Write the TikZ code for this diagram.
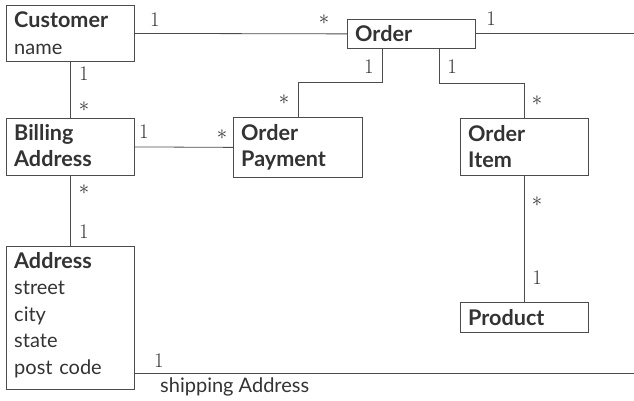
\documentclass[tikz,border=0pt]{standalone}
\usepackage{fontspec}
\setmainfont{Lato}[BoldFeatures={Scale=1.08}]
\usetikzlibrary{positioning, calc}

\begin{document}
\begin{tikzpicture}[x=1pt, y=-1pt,
  cls/.style={draw=black!70, line width=0.8pt, anchor=north west, inner sep=0pt},
  attr/.style={anchor=base west, align=left, text width=118pt, inner sep=0pt,
    text=black!80, font=\fontsize{20}{26.5}\selectfont},
  mult/.style={inner sep=0pt, text=black!80, font=\fontsize{22}{24}\selectfont},
  assoc/.style={draw=black!70, line width=0.8pt}]
  \useasboundingbox (0,0) rectangle (634,401);
  \coordinate (rightEdge) at (634,0);

  % Classes
  \node[cls, minimum width=128pt, minimum height=56pt] (customer) at (6,5) {};
  \node[attr] (customerT) at ($(customer.north west)+(8,23)$) {\textbf{Customer}\\name};
  \node[cls, minimum width=128pt, minimum height=29pt] (order) at (347,19) {};
  \node[attr] (orderT) at ($(order.north west)+(8,23)$) {\textbf{Order}};
  \node[cls, minimum width=128pt, minimum height=57pt] (billing) at (6,118) {};
  \node[attr] (billingT) at ($(billing.north west)+(8,22)$) {\textbf{Billing}\\\textbf{Address}};
  \node[cls, minimum width=129pt, minimum height=60pt] (payment) at (233,117) {};
  \node[attr] (paymentT) at ($(payment.north west)+(8,23)$) {\textbf{Order}\\\textbf{Payment}};
  \node[cls, minimum width=128pt, minimum height=57pt] (item) at (460,118) {};
  \node[attr] (itemT) at ($(item.north west)+(8,23)$) {\textbf{Order}\\\textbf{Item}};
  \node[cls, minimum width=128pt, minimum height=143pt] (address) at (6,246) {};
  \node[attr] (addressT) at ($(address.north west)+(8,22)$)
    {\textbf{Address}\\street\\city\\state\\post code};
  \node[cls, minimum width=128pt, minimum height=30pt] (product) at (460,302) {};
  \node[attr] (productT) at ($(product.north west)+(8,23)$) {\textbf{Product}};

  % Associations
  \draw[assoc] (customer.east) -- (order.west);
  \draw[assoc] (order.east) -- (order.east -| rightEdge);
  \draw[assoc] (customer.south) -- (billing.north);
  \draw[assoc] (billing.south) -- (address.north);
  \draw[assoc] (billing.east) -- (payment.west);
  \draw[assoc] ($(order.south west)+(35,0)$) -- ++(0,34) -| (payment.north);
  \draw[assoc] ($(order.south west)+(92,0)$) -- ++(0,35) -| (item.north);
  \draw[assoc] (item.south) -- (product.north);
  \coordinate (ship) at ($(address.south east)+(0,-16)$);
  \draw[assoc] (ship) -- (ship -| rightEdge);
  \node[attr, text width=] (shipT) at (160,392) {shipping Address};

  % Multiplicities
  \node[mult] (m1) at (155,20) {$1$};
  \node[mult] (m2) at (324,20) {$*$};
  \node[mult] (m3) at (491,19) {$1$};
  \node[mult] (m4) at (369,67) {$1$};
  \node[mult] (m5) at (452,67) {$1$};
  \node[mult] (m6) at (284,100) {$*$};
  \node[mult] (m7) at (537,101) {$*$};
  \node[mult] (m8) at (84,74) {$1$};
  \node[mult] (m9) at (84,107) {$*$};
  \node[mult] (m10) at (144,132) {$1$};
  \node[mult] (m11) at (222,135) {$*$};
  \node[mult] (m12) at (84,190) {$*$};
  \node[mult] (m13) at (84,232) {$1$};
  \node[mult] (m14) at (537,202) {$*$};
  \node[mult] (m15) at (537,278) {$1$};
  \node[mult] (m16) at (159,361) {$1$};
\end{tikzpicture}
\end{document}
